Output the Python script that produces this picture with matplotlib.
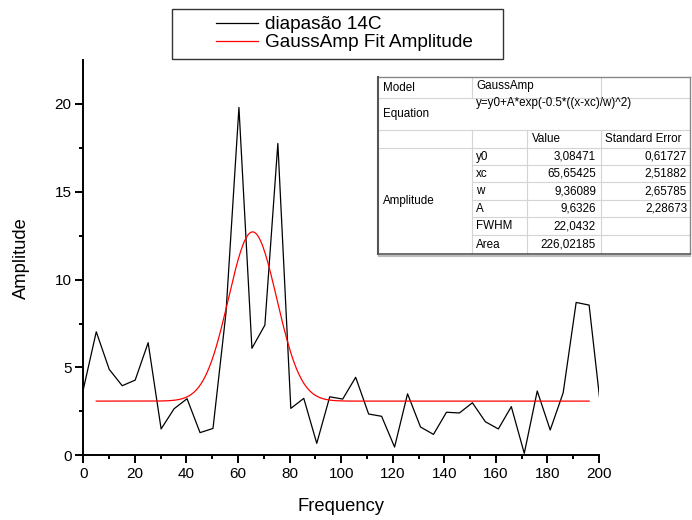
import matplotlib
matplotlib.use('Agg')
import matplotlib.pyplot as plt
from matplotlib.patches import Rectangle
from matplotlib.lines import Line2D
import numpy as np

plt.rcParams['font.family'] = ['Liberation Sans', 'DejaVu Sans']

# spectrum
freq = [0.0, 5.03, 10.06, 15.09, 20.12, 25.15, 30.18, 35.21, 40.24, 45.27,
        50.3, 55.33, 60.36, 65.39, 70.42, 75.45, 80.48, 85.51, 90.54, 95.57,
        100.6, 105.63, 110.66, 115.69, 120.72, 125.75, 130.78, 135.81, 140.84, 145.87,
        150.9, 155.93, 160.96, 165.99, 171.02, 176.05, 181.08, 186.11, 191.14, 196.17,
        201.2]
amplitude = [3.75, 7.03, 4.89, 3.96, 4.28, 6.41, 1.50, 2.65, 3.22, 1.29,
             1.53, 8.1, 19.8, 6.09, 7.41, 17.75, 2.67, 3.24, 0.68, 3.33,
             3.20, 4.44, 2.35, 2.22, 0.47, 3.50, 1.61, 1.19, 2.45, 2.41,
             2.99, 1.91, 1.50, 2.77, 0.11, 3.66, 1.44, 3.56, 8.70, 8.55,
             2.0]

# GaussAmp fit parameters (from the table)
y0, xc, w, A = 3.08471, 65.65425, 9.36089, 9.6326
fit_start, fit_end = 5.03, 196.17

table_params = ['y0', 'xc', 'w', 'A', 'FWHM', 'Area']
table_values = ['3,08471', '65,65425', '9,36089', '9,6326', '22,0432', '226,02185']
table_errors = ['0,61727', '2,51882', '2,65785', '2,28673', '', '']

W, H = 692, 520


def fx(x):
    return x / W


def fy(y):
    return 1 - y / H


fig = plt.figure(figsize=(W / 100, H / 100), dpi=100)
ax = fig.add_axes([fx(83.3), fy(455.3), (599 - 83.3) / W, (455.3 - 60) / H])

ax.plot(freq, amplitude, color='black', lw=0.9, label='diapasão 14C')
xf = np.linspace(fit_start, fit_end, 400)
ax.plot(xf, y0 + A * np.exp(-0.5 * ((xf - xc) / w) ** 2), color='red', lw=0.9,
        label='GaussAmp Fit Amplitude')

ax.set_xlim(0, 200)
ax.set_ylim(0, 22.5)
ax.set_xticks(np.arange(0, 201, 20))
ax.set_xticks(np.arange(10, 200, 20), minor=True)
ax.set_yticks([0, 5, 10, 15, 20])
ax.set_yticks([2.5, 7.5, 12.5, 17.5], minor=True)
for s in ['top', 'right']:
    ax.spines[s].set_visible(False)
for s in ['left', 'bottom']:
    ax.spines[s].set_linewidth(1.4)
ax.tick_params(which='major', direction='out', length=5.5, width=1.4, labelsize=11, pad=3)
ax.tick_params(which='minor', direction='out', length=3.1, width=1.4)
ax.set_xlabel('Frequency', fontsize=13.2, labelpad=12)
ax.set_ylabel('Amplitude', fontsize=13.2, labelpad=18)

# legend above the plot
fig.legend(loc='center left', bbox_to_anchor=(fx(216), fy(33.7)), frameon=False,
           fontsize=13.7, handlelength=2.2, handletextpad=0.37, borderpad=0,
           borderaxespad=0, labelspacing=0.05)
fig.add_artist(Rectangle((fx(171.7), fy(59.3)), (503.3 - 171.7) / W, 50 / H,
                         transform=fig.transFigure, fill=False, edgecolor='#333333', lw=1))

# fit results table
tl, tr, tt, tb = 378.3, 690.0, 76.7, 254.0
c1, c2, c3 = 471.7, 527.3, 600.7
rows = [97.7, 130.0, 148.3, 165.0, 182.3, 200.0, 217.3, 235.0]
grid = '#d4d4d4'
fig.add_artist(Rectangle((fx(tl), fy(tb)), (tr - tl) / W, (tb - tt) / H,
                         transform=fig.transFigure, facecolor='white', edgecolor='none', zorder=5))


def hline(x0, x1, y, color=grid, lw=0.8):
    fig.add_artist(Line2D([fx(x0), fx(x1)], [fy(y), fy(y)], transform=fig.transFigure,
                          color=color, lw=lw, zorder=6))


def vline(x, ya, yb, color=grid, lw=0.8):
    fig.add_artist(Line2D([fx(x), fx(x)], [fy(ya), fy(yb)], transform=fig.transFigure,
                          color=color, lw=lw, zorder=6))


hline(tl, tr, rows[0])
hline(tl, tr, rows[1])
hline(tl, tr, rows[2])
for r in rows[3:]:
    hline(c1, tr, r)
vline(c1, tt, rows[0])
vline(c3, tt, rows[0])
vline(c1, rows[1], tb)
vline(c2, rows[1], tb)
vline(c3, rows[1], tb)
# outer border and shadow
hline(tl, tr, tt, color='#888888', lw=1)
vline(tl, tt, tb, color='#555555', lw=1.5)
vline(tr, tt, tb, color='#888888', lw=1)
hline(tl, tr, tb, color='#555555', lw=1.2)
hline(tl + 1, tr, tb + 2, color='#bbbbbb', lw=1.5)

tfs = 8.4


def cell(x, y, s, ha='left'):
    fig.text(fx(x), fy(y), s, fontsize=tfs, ha=ha, va='center', zorder=7)


cell(383, 88, 'Model')
cell(476, 86, 'GaussAmp')
cell(383, 114, 'Equation')
cell(476, 103, 'y=y0+A*exp(-0.5*((x-xc)/w)^2)')
cell(532, 139, 'Value')
cell(605, 139, 'Standard Error')
cell(383, 201, 'Amplitude')
for i, p in enumerate(table_params):
    yc = (rows[2 + i] + (rows[3 + i] if i + 3 < len(rows) else tb)) / 2
    cell(476, yc, p)
    cell(596, yc, table_values[i], ha='right')
    if table_errors[i]:
        cell(687, yc, table_errors[i], ha='right')

fig.savefig('out.png', dpi=100)
